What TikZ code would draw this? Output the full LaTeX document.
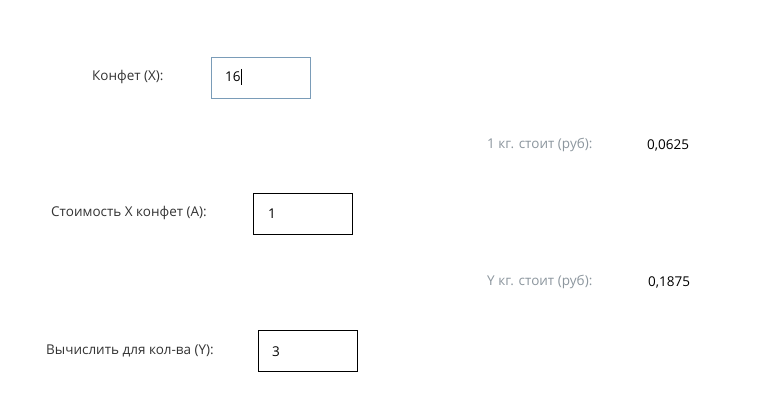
\documentclass[tikz,border=0pt]{standalone}
\usepackage{fontspec}
\setmainfont{Open Sans}
\definecolor{lbl}{HTML}{333333}
\definecolor{muted}{HTML}{8C969E}
\definecolor{focusb}{HTML}{7A9CB8}
\begin{document}
\begin{tikzpicture}[x=1pt,y=-1pt,
  txt/.style={inner sep=0pt,anchor=west,font=\fontsize{13.5}{16}\selectfont,text=lbl},
  mut/.style={txt,text=muted},
  val/.style={txt,text=black},
  inbox/.style={draw=black,line width=1pt,minimum width=99pt,minimum height=41pt,anchor=north west,inner sep=0pt}]
\useasboundingbox[fill=white] (0,0) rectangle (782,417);
% row 1
\node[txt] (lx) at (92,77) {Конфет (X):};
\node[inbox,draw=focusb] (bx) at (211,57) {};
\node[val] (vx) at (225,77) {16};
\draw[black,line width=0.8pt] ([xshift=1pt]vx.east |- 0,69) -- ([xshift=1pt]vx.east |- 0,85);
% result 1
\node[mut] (r1) at (487,145) {1 кг. стоит (руб):};
\node[val] (v1) at (647,145) {0,0625};
% row 2
\node[txt] (la) at (51,213) {Стоимость X конфет (А):};
\node[inbox] (ba) at (253,193) {};
\node[val] (va) at (268,214) {1};
% result 2
\node[mut] (r2) at (487,282) {Y кг. стоит (руб):};
\node[val] (v2) at (648,282) {0,1875};
% row 3
\node[txt] (ly) at (46,351) {Вычислить для кол-ва (Y):};
\node[inbox] (by) at (258,330) {};
\node[val] (vy) at (272,352) {3};
\end{tikzpicture}
\end{document}
